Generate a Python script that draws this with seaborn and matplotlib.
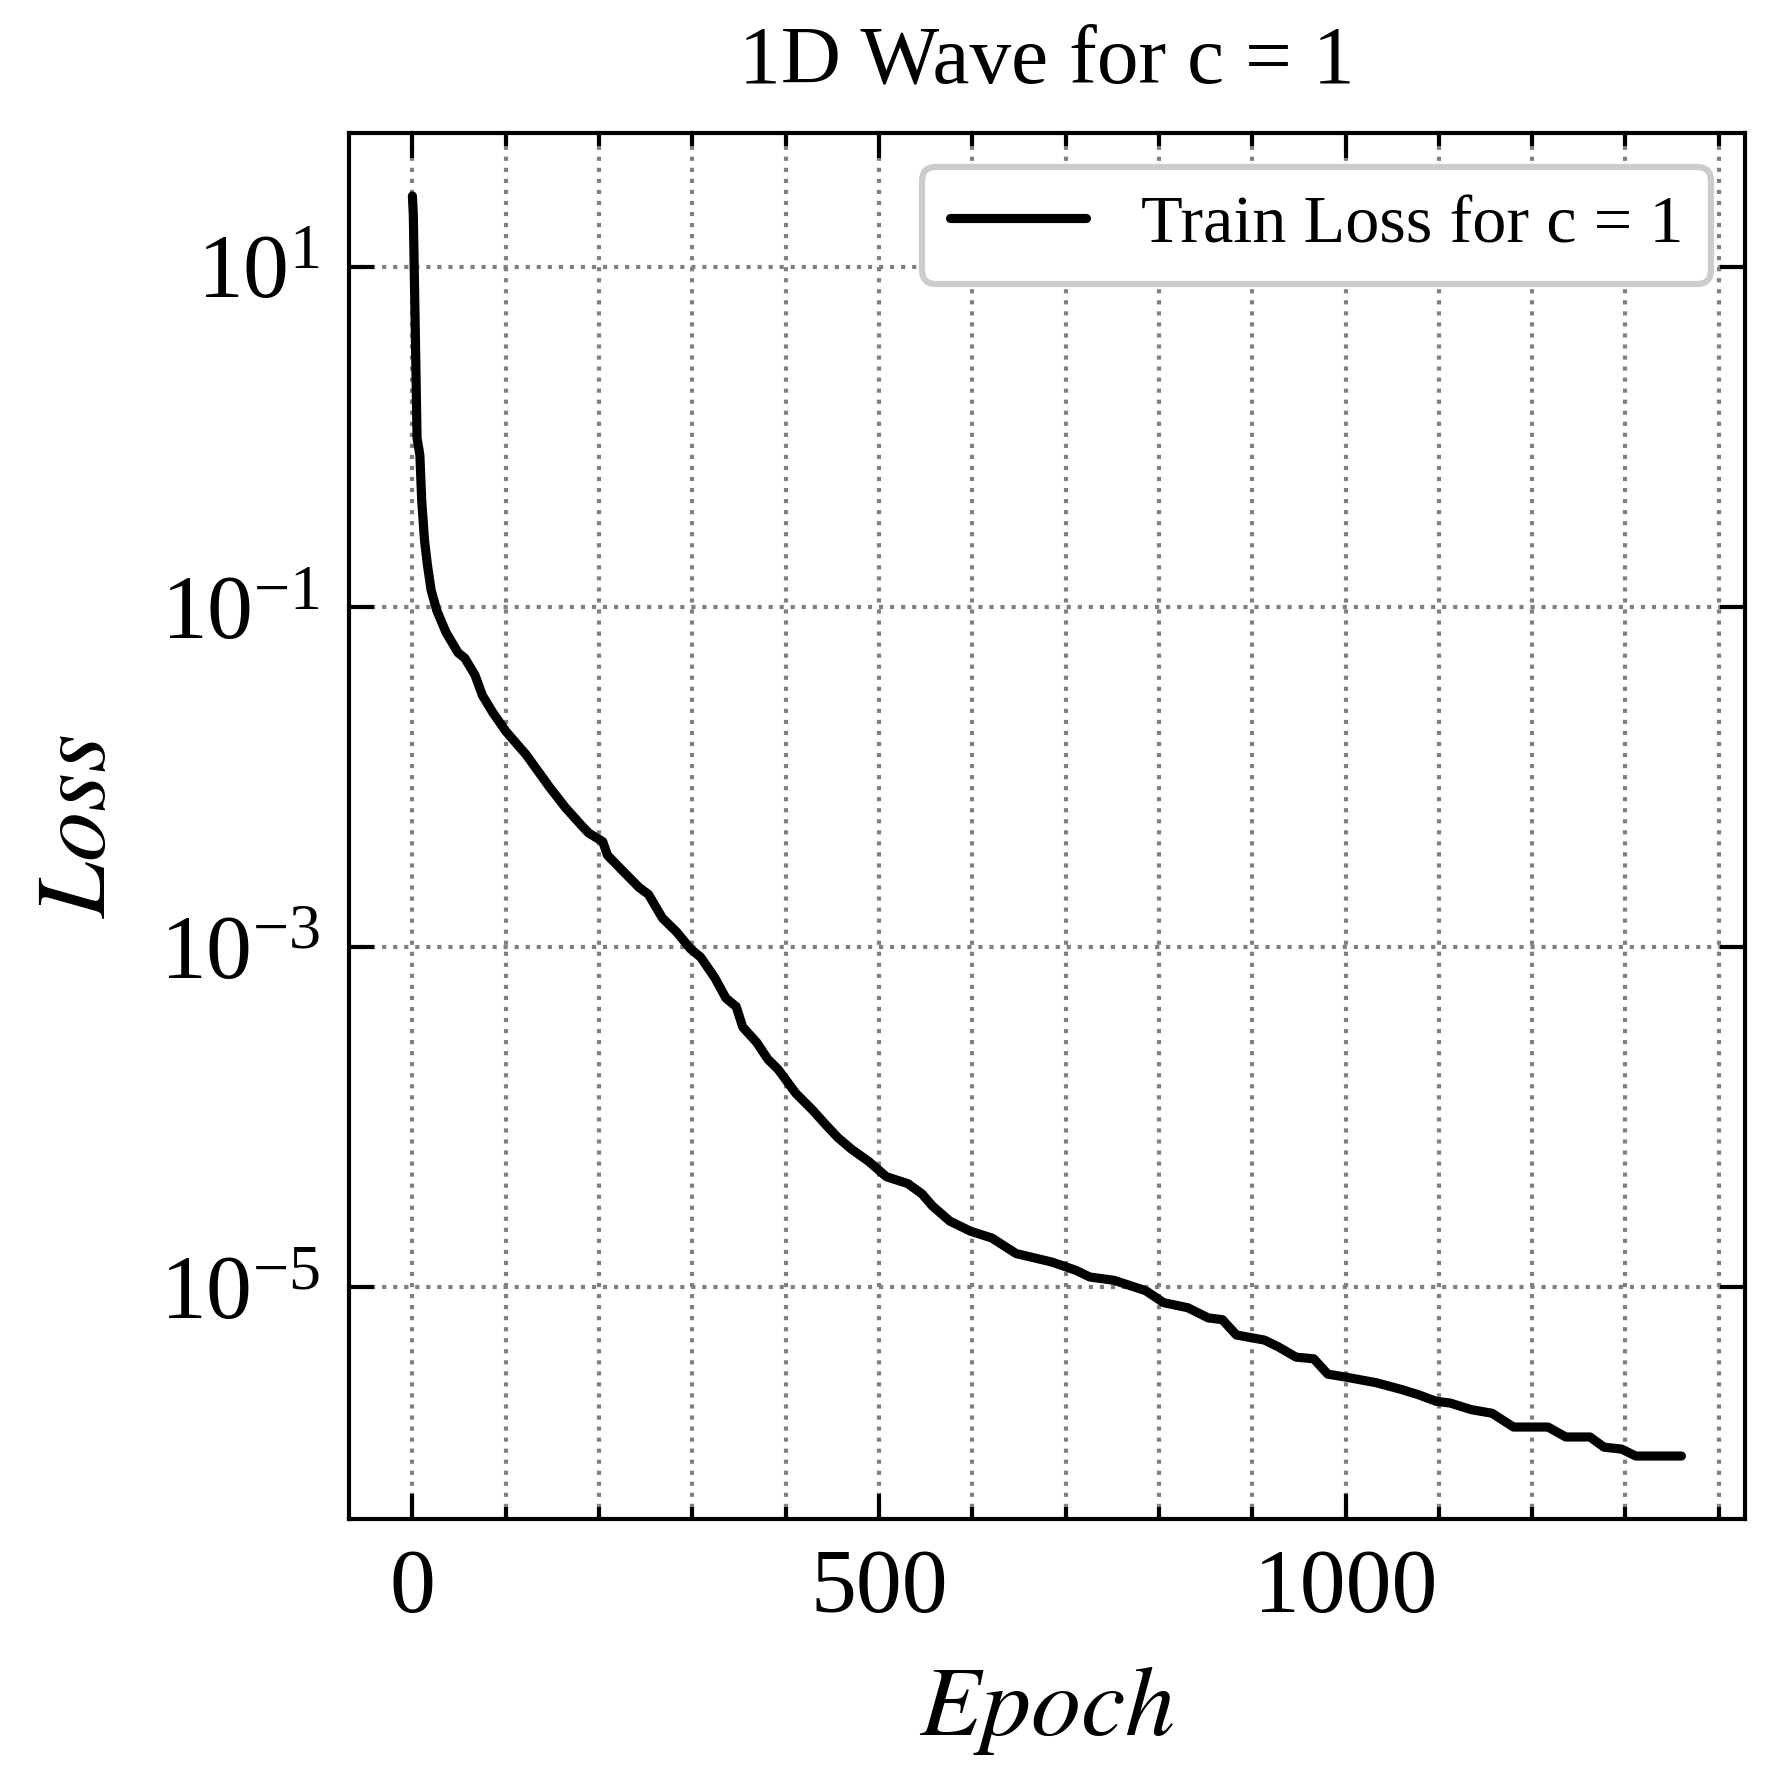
import pandas as pd
import matplotlib
matplotlib.use("Agg")
import matplotlib.pyplot as plt
from matplotlib.ticker import FixedLocator, NullLocator, MultipleLocator
import seaborn as sns

# Loss curve (epoch, train loss)
epochs = [0, 1, 3, 4, 5, 8, 10, 13, 16, 20, 26, 36, 49, 56, 67, 75, 86, 100,
          122, 147, 164, 182, 189, 204, 209, 225, 243, 253, 268, 283, 298,
          309, 324, 336, 347, 354, 369, 381, 392, 411, 429, 444, 456, 471,
          489, 508, 531, 546, 557, 576, 598, 621, 647, 685, 711, 726, 752,
          786, 805, 831, 853, 868, 883, 913, 928, 947, 966, 981, 1003, 1033,
          1060, 1078, 1097, 1112, 1135, 1157, 1180, 1217, 1236, 1262, 1277,
          1296, 1311, 1360]
loss = [26.0, 20.0, 4.5, 2.1, 0.98, 0.78, 0.42, 0.245, 0.178, 0.126, 0.0955,
        0.0708, 0.0537, 0.0501, 0.0398, 0.0302, 0.0240, 0.0186, 0.0135,
        8.71e-3, 6.61e-3, 5.13e-3, 4.68e-3, 4.17e-3, 3.47e-3, 2.82e-3,
        2.24e-3, 2.04e-3, 1.48e-3, 1.23e-3, 9.77e-4, 8.71e-4, 6.61e-4,
        5.01e-4, 4.47e-4, 3.39e-4, 2.75e-4, 2.19e-4, 1.91e-4, 1.38e-4,
        1.10e-4, 8.91e-5, 7.59e-5, 6.46e-5, 5.50e-5, 4.47e-5, 4.07e-5,
        3.55e-5, 3.02e-5, 2.45e-5, 2.14e-5, 1.95e-5, 1.58e-5, 1.41e-5,
        1.26e-5, 1.15e-5, 1.10e-5, 9.55e-6, 8.13e-6, 7.59e-6, 6.61e-6,
        6.46e-6, 5.25e-6, 4.90e-6, 4.47e-6, 3.89e-6, 3.80e-6, 3.09e-6,
        2.95e-6, 2.75e-6, 2.51e-6, 2.34e-6, 2.14e-6, 2.09e-6, 1.91e-6,
        1.82e-6, 1.51e-6, 1.51e-6, 1.32e-6, 1.32e-6, 1.15e-6, 1.12e-6,
        1.02e-6, 1.02e-6]
ytick_vals = [1e1, 1e-1, 1e-3, 1e-5]

sns.set_style("ticks")
plt.rcParams.update({
    "font.family": ["Liberation Serif", "DejaVu Serif"],
    "mathtext.fontset": "stix",
    "axes.linewidth": 0.5,
    "axes.edgecolor": "black",
    "axes.labelcolor": "black",
    "text.color": "black",
    "xtick.color": "black",
    "ytick.color": "black",
    "xtick.direction": "in",
    "ytick.direction": "in",
    "xtick.top": True,
    "ytick.right": True,
    "xtick.major.size": 3,
    "ytick.major.size": 3,
    "xtick.minor.size": 1.5,
    "xtick.major.width": 0.5,
    "ytick.major.width": 0.5,
    "xtick.minor.width": 0.5,
    "xtick.labelsize": 11,
    "ytick.labelsize": 11,
    "axes.labelsize": 12,
    "axes.titlesize": 10,
    "legend.fontsize": 8.2,
})

df = pd.DataFrame({"Epoch": epochs, "Loss": loss})

fig, ax = plt.subplots(figsize=(1774 / 600, 1785 / 600), dpi=600)
fig.subplots_adjust(left=0.1967, right=0.9836, bottom=0.149, top=0.9255)
ax.set_yscale("log")
sns.lineplot(data=df, x="Epoch", y="Loss", color="black", linewidth=1.1,
             label="Train Loss for c = 1", ax=ax)

ax.yaxis.set_major_locator(FixedLocator(ytick_vals))
ax.yaxis.set_minor_locator(NullLocator())
ax.xaxis.set_major_locator(MultipleLocator(500))
ax.xaxis.set_minor_locator(MultipleLocator(100))
ax.tick_params(which="both", top=True, right=True, direction="in")

ax.grid(which="both", axis="x", linestyle=":", color="gray", linewidth=0.5)
ax.grid(which="major", axis="y", linestyle=":", color="gray", linewidth=0.5)

ax.set_xlabel("$Epoch$")
ax.set_ylabel("$Loss$")
ax.set_title("1D Wave for c = 1")

leg = ax.legend(loc="upper right", frameon=True, fancybox=True,
                edgecolor="0.8", framealpha=1)
leg.get_frame().set_linewidth(0.75)

fig.savefig("out.png", dpi=600)
